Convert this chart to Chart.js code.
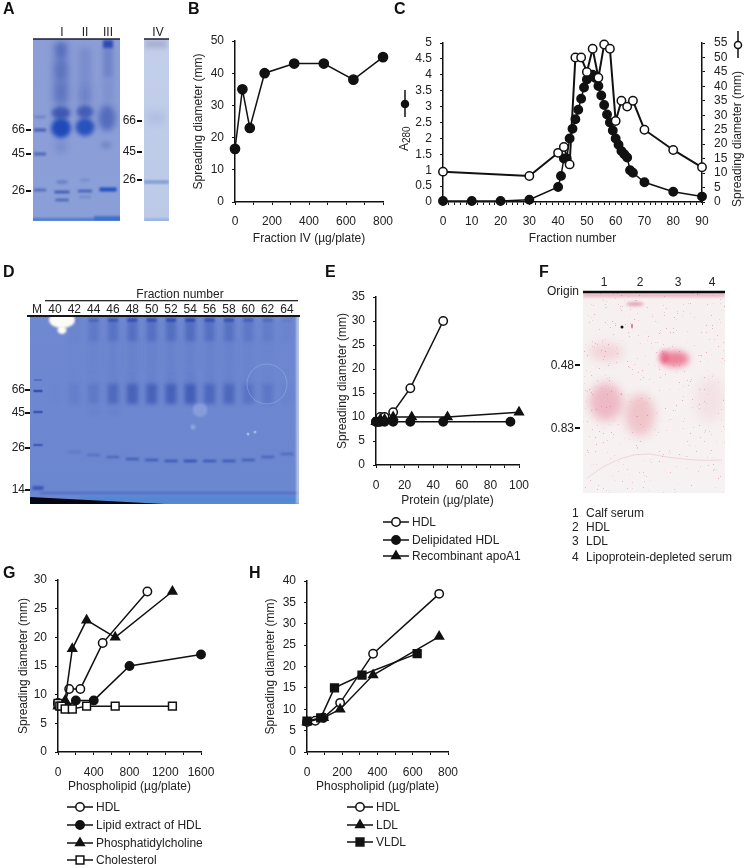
<!DOCTYPE html>
<html>
<head>
<meta charset="utf-8">
<script src="https://cdn.jsdelivr.net/npm/chart.js@4/dist/chart.umd.min.js"></script>
<style>
  html, body { margin: 0; padding: 0; background: #fff; }
  #page { position: relative; width: 748px; height: 868px; overflow: hidden; font-family: "Liberation Sans", Arial, sans-serif; color: #222; }
  #gels { position: absolute; left: 0; top: 0; }
  #page canvas.plot { position: absolute; }
  .t { position: absolute; white-space: nowrap; font-size: 12px; line-height: 14px; }
  .letter { font-weight: bold; font-size: 16px; color: #111; }
  .tick { position: absolute; background: #111; height: 2px; width: 5px; }
</style>
</head>
<body>
<div id="page"><canvas id="gels" width="748" height="868"></canvas></div>
<script>
// Panel B
var bDose = [0, 40, 80, 160, 320, 480, 640, 800];
var bSpread = [16.5, 35, 23, 40, 43, 43, 38, 45];

// Panel C
var cA280X = [0, 10, 20, 30, 40, 41, 42, 43, 44, 45, 46, 47, 48, 49, 50, 51, 52, 53, 54, 55, 56, 57, 58, 59, 60, 61, 62, 63, 64, 65, 66, 70, 80, 90];
var cA280 = [0.03, 0.03, 0.03, 0.07, 0.47, 0.82, 1.37, 1.37, 2.0, 2.3, 2.6, 2.9, 3.25, 3.6, 3.85, 3.95, 4.0, 3.9, 3.65, 3.35, 3.05, 2.75, 2.5, 2.25, 2.0, 1.8, 1.6, 1.5, 1.4, 1.0, 0.92, 0.62, 0.32, 0.17];
var cSpreadX = [0, 30, 40, 42, 44, 46, 48, 50, 52, 54, 56, 58, 60, 62, 64, 66, 70, 80, 90];
var cSpread = [10.5, 9, 17, 19, 13, 50, 50, 45, 53, 43, 54.5, 53, 28, 35, 33, 35, 25, 18, 12];

// Panel E
var eHdlX = [0, 1.5, 3, 6, 12, 24, 47];
var eHdl = [9, 9, 10, 10, 11, 16, 30];
var eDelipX = [0, 1.5, 3, 6, 12, 24, 47, 94];
var eDelip = [9, 9, 9, 9, 9, 9, 9, 9];
var eApoX = [0, 3, 6, 12, 25, 50, 100];
var eApo = [9, 9.5, 9.5, 10, 10, 10, 11];

// Panel G
var gHdlX = [0, 62, 125, 250, 500, 1000];
var gHdl = [8.5, 8, 11, 11, 19, 28];
var gLipidX = [0, 100, 200, 400, 800, 1600];
var gLipid = [8.5, 8, 9, 9, 15, 17];
var gPcX = [0, 80, 160, 320, 640, 1280];
var gPc = [8, 9, 18, 23, 20, 28];
var gCholX = [0, 20, 40, 80, 160, 320, 640, 1280];
var gChol = [8.5, 8, 8, 7.5, 7.5, 8, 8, 8];

// Panel H
var hHdlX = [0, 47, 94, 188, 375, 750];
var hHdl = [7, 7.3, 8, 11.5, 23, 37];
var hLdlX = [0, 94, 188, 375, 750];
var hLdl = [7, 8, 10, 18, 27];
var hVldlX = [0, 78, 156, 312, 625];
var hVldl = [7.2, 8, 15, 18, 23];

var ink = '#111';
Chart.defaults.font.family = '"Liberation Sans", Arial, sans-serif';
Chart.defaults.font.size = 12;
Chart.defaults.color = '#222';

function pairs(xs, ys) {
    return xs.map(function (x, i) { return { x: x, y: ys[i] }; });
}

// open = white fill, otherwise solid black
function series(label, xs, ys, style, open, radius, order, lineWidth) {
    return {
        label: label,
        data: pairs(xs, ys),
        borderColor: ink,
        borderWidth: lineWidth || 1.5,
        tension: 0,
        clip: false,
        order: order,
        pointStyle: style,
        pointRadius: radius,
        pointBackgroundColor: open ? '#fff' : ink,
        pointBorderColor: ink,
        pointBorderWidth: 1.5
    };
}

function scaleBase(min, max, step, labelEvery, side, padding, width) {
    return {
        type: 'linear',
        position: side,
        min: min,
        max: max,
        afterFit: function (s) {
            if (s.isHorizontal()) s.height = width; else s.width = width;
        },
        border: { color: ink, width: 1.5 },
        grid: { drawOnChartArea: false, color: ink, tickColor: ink, tickLength: 3, lineWidth: 1 },
        ticks: {
            stepSize: step,
            autoSkip: false,
            maxRotation: 0,
            padding: padding,
            callback: function (v) {
                var n = Math.round(v / labelEvery * 1000) / 1000;
                return n === Math.round(n) ? String(v) : '';
            }
        }
    };
}

function axisTitle(text) {
    return { display: true, text: text, padding: 0, font: { size: 12 }, color: '#222' };
}

// legend rows drawn under the plot, using the dataset's own marker
function legendPlugin(rows) {
    return {
        id: 'rows',
        afterDraw: function (chart) {
            var ctx = chart.ctx;
            var ox = parseFloat(chart.canvas.style.left), oy = parseFloat(chart.canvas.style.top);
            rows.forEach(function (r) {
                var ds = chart.data.datasets[r.index];
                ctx.save();
                ctx.strokeStyle = ink;
                ctx.lineWidth = 1.5;
                ctx.beginPath();
                ctx.moveTo(r.x0 - ox, r.y - oy);
                ctx.lineTo(r.x1 - ox, r.y - oy);
                ctx.stroke();
                ctx.fillStyle = ds.pointBackgroundColor;
                ctx.strokeStyle = ink;
                Chart.helpers.drawPoint(ctx, { pointStyle: ds.pointStyle, radius: ds.pointRadius, borderWidth: 1.5, rotation: 0 }, (r.x0 + r.x1) / 2 - ox, r.y - oy);
                ctx.fillStyle = '#222';
                ctx.font = '12px "Liberation Sans", Arial, sans-serif';
                ctx.textBaseline = 'middle';
                ctx.fillText(ds.label, r.x1 + 3 - ox, r.y - oy + 0.5);
                ctx.restore();
            });
        }
    };
}

// plot = inner plot rectangle on the page, m = margins around it
// note ticks.padding adds to the axis top padding, so m.t has to cover label height/2 + padding
function panel(plot, m, extraBottom, scales, datasets, plugins) {
    var c = document.createElement('canvas');
    c.className = 'plot';
    var w = plot.r - plot.l + m.l + m.r;
    var h = plot.b - plot.t + m.t + m.b + extraBottom;
    c.width = w;
    c.height = h;
    c.style.left = (plot.l - m.l) + 'px';
    c.style.top = (plot.t - m.t) + 'px';
    c.style.width = w + 'px';
    c.style.height = h + 'px';
    document.getElementById('page').appendChild(c);
    return new Chart(c.getContext('2d'), {
        type: 'line',
        data: { datasets: datasets },
        plugins: plugins || [],
        options: {
            responsive: false,
            animation: false,
            layout: { padding: { top: m.t, right: scales.y2 ? 0 : m.r, left: 0, bottom: extraBottom } },
            plugins: { legend: { display: false }, tooltip: { enabled: false } },
            scales: scales
        }
    });
}

// Panel B
(function () {
    var x = scaleBase(0, 800, 100, 200, 'bottom', 9, 44);
    x.title = axisTitle('Fraction IV (\u00b5g/plate)');
    var y = scaleBase(0, 50, 10, 10, 'left', 8, 44);
    y.title = axisTitle('Spreading diameter (mm)');
    panel({ l: 235, r: 383, t: 41, b: 202 }, { l: 44, r: 30, t: 18, b: 44 }, 0, { x: x, y: y }, [
        series('Fraction IV', bDose, bSpread, 'circle', false, 4.6, 0)
    ]);
})();

// Panel C, two value axes plus the little marker keys beside them
(function () {
    var x = scaleBase(0, 90, 2, 10, 'bottom', 9, 44);
    x.title = axisTitle('Fraction number');
    var y = scaleBase(0, 5, 0.5, 0.5, 'left', 8, 48);
    var y2 = scaleBase(0, 55, 5, 5, 'right', 9, 46);
    var keys = {
        id: 'keys',
        afterDraw: function (chart) {
            var ctx = chart.ctx;
            var ox = parseFloat(chart.canvas.style.left), oy = parseFloat(chart.canvas.style.top);
            ctx.save();
            ctx.strokeStyle = ink;
            ctx.lineWidth = 1.5;
            // left key
            ctx.beginPath();
            ctx.moveTo(405 - ox, 90 - oy);
            ctx.lineTo(405 - ox, 117 - oy);
            ctx.stroke();
            ctx.fillStyle = ink;
            Chart.helpers.drawPoint(ctx, { pointStyle: 'circle', radius: 3.5, borderWidth: 1, rotation: 0 }, 405 - ox, 104 - oy);
            // right key
            ctx.beginPath();
            ctx.moveTo(738 - ox, 31 - oy);
            ctx.lineTo(738 - ox, 58 - oy);
            ctx.stroke();
            ctx.fillStyle = '#fff';
            Chart.helpers.drawPoint(ctx, { pointStyle: 'circle', radius: 3.5, borderWidth: 1.5, rotation: 0 }, 738 - ox, 45 - oy);
            // rotated titles
            ctx.fillStyle = '#222';
            ctx.textAlign = 'center';
            ctx.textBaseline = 'middle';
            ctx.save();
            ctx.translate(738 - ox, 139 - oy);
            ctx.rotate(-Math.PI / 2);
            ctx.font = '12px "Liberation Sans", Arial, sans-serif';
            ctx.fillText('Spreading diameter (mm)', 0, 0);
            ctx.restore();
            ctx.save();
            ctx.translate(405 - ox, 138 - oy);
            ctx.rotate(-Math.PI / 2);
            ctx.textAlign = 'left';
            ctx.font = '12px "Liberation Sans", Arial, sans-serif';
            ctx.fillText('A', -13, 0);
            ctx.font = '10px "Liberation Sans", Arial, sans-serif';
            ctx.fillText('280', -5, 2);
            ctx.restore();
            ctx.restore();
        }
    };
    var white = series('Spreading diameter', cSpreadX, cSpread, 'circle', true, 4.2, 0, 2);
    white.yAxisID = 'y2';
    var black = series('A280', cA280X, cA280, 'circle', false, 4.2, 1);
    black.yAxisID = 'y';
    panel({ l: 443, r: 702, t: 43, b: 201 }, { l: 48, r: 46, t: 18, b: 45 }, 0, { x: x, y: y, y2: y2 }, [white, black], [keys]);
})();

// Panel E
(function () {
    var x = scaleBase(0, 100, 10, 20, 'bottom', 10, 43);
    x.title = axisTitle('Protein (\u00b5g/plate)');
    var y = scaleBase(0, 35, 5, 5, 'left', 8, 41);
    y.title = axisTitle('Spreading diameter (mm)');
    panel({ l: 376, r: 519, t: 297, b: 465 }, { l: 41, r: 30, t: 18, b: 43 }, 100, { x: x, y: y }, [
        series('HDL', eHdlX, eHdl, 'circle', true, 4.2, 2),
        series('Delipidated HDL', eDelipX, eDelip, 'circle', false, 4.2, 0),
        series('Recombinant apoA1', eApoX, eApo, 'triangle', false, 5, 1)
    ], [legendPlugin([
        { index: 0, x0: 383, x1: 409, y: 522 },
        { index: 1, x0: 383, x1: 409, y: 540 },
        { index: 2, x0: 383, x1: 409, y: 556 }
    ])]);
})();

// Panel G
(function () {
    var x = scaleBase(0, 1600, 200, 400, 'bottom', 10, 42);
    x.title = axisTitle('Phospholipid (\u00b5g/plate)');
    var y = scaleBase(0, 30, 5, 5, 'left', 8, 42);
    y.title = axisTitle('Spreading diameter (mm)');
    panel({ l: 58, r: 201, t: 580, b: 752 }, { l: 42, r: 30, t: 18, b: 42 }, 74, { x: x, y: y }, [
        series('HDL', gHdlX, gHdl, 'circle', true, 4.2, 3),
        series('Lipid extract of HDL', gLipidX, gLipid, 'circle', false, 4.2, 2),
        series('Phosphatidylcholine', gPcX, gPc, 'triangle', false, 5, 1),
        series('Cholesterol', gCholX, gChol, 'rect', true, 5.5, 0)
    ], [legendPlugin([
        { index: 0, x0: 67, x1: 93, y: 807 },
        { index: 1, x0: 67, x1: 93, y: 825 },
        { index: 2, x0: 67, x1: 93, y: 843 },
        { index: 3, x0: 67, x1: 93, y: 860 }
    ])]);
})();

// Panel H
(function () {
    var x = scaleBase(0, 800, 100, 200, 'bottom', 10, 42);
    x.title = axisTitle('Phospholipid (\u00b5g/plate)');
    var y = scaleBase(0, 40, 5, 5, 'left', 8, 44);
    y.title = axisTitle('Spreading diameter (mm)');
    panel({ l: 307, r: 448, t: 581, b: 752 }, { l: 44, r: 30, t: 18, b: 42 }, 74, { x: x, y: y }, [
        series('HDL', hHdlX, hHdl, 'circle', true, 4.2, 2),
        series('LDL', hLdlX, hLdl, 'triangle', false, 5, 1),
        series('VLDL', hVldlX, hVldl, 'rect', false, 5.5, 0)
    ], [legendPlugin([
        { index: 0, x0: 347, x1: 373, y: 807 },
        { index: 1, x0: 347, x1: 373, y: 825 },
        { index: 2, x0: 347, x1: 373, y: 842 }
    ])]);
})();

// --- page text that is not part of any chart ---
function text(str, x, y, align, cls) {
    var el = document.createElement('div');
    el.className = 't' + (cls ? ' ' + cls : '');
    el.textContent = str;
    var shift = align === 'right' ? '-100%' : align === 'center' ? '-50%' : '0';
    el.style.left = x + 'px';
    el.style.top = y + 'px';
    el.style.transform = 'translate(' + shift + ',-50%)';
    document.getElementById('page').appendChild(el);
}
function tickMark(x, y) {
    var el = document.createElement('div');
    el.className = 'tick';
    el.style.left = x + 'px';
    el.style.top = (y - 1) + 'px';
    document.getElementById('page').appendChild(el);
}

[['A', 3, 9], ['B', 188, 9], ['C', 394, 9], ['D', 3, 272], ['E', 325, 272], ['F', 539, 272], ['G', 3, 573], ['H', 249, 573]].forEach(function (l) {
    text(l[0], l[1], l[2], 'left', 'letter');
});

[['I', 62], ['II', 85], ['III', 108], ['IV', 158]].forEach(function (l) { text(l[0], l[1], 32, 'center'); });
[['66', 129], ['45', 153], ['26', 190]].forEach(function (l) {
    text(l[0], 25, l[1], 'right');
    tickMark(26, l[1] + 1);
});
[['66', 120], ['45', 151], ['26', 179]].forEach(function (l) {
    text(l[0], 136, l[1], 'right');
    tickMark(137, l[1] + 1);
});

text('Fraction number', 180, 294, 'center');
['M', '40', '42', '44', '46', '48', '50', '52', '54', '56', '58', '60', '62', '64'].forEach(function (l, i) {
    text(l, i === 0 ? 37 : 55 + (i - 1) * 19.33, 309, 'center');
});
[['66', 389], ['45', 412], ['26', 447], ['14', 489]].forEach(function (l) {
    text(l[0], 25, l[1], 'right');
    tickMark(25, l[1] + 1);
});

text('Origin', 579, 291, 'right');
[['1', 604], ['2', 640], ['3', 678], ['4', 712]].forEach(function (l) { text(l[0], l[1], 282, 'center'); });
[['0.48', 365], ['0.83', 428]].forEach(function (l) {
    text(l[0], 574, l[1], 'right');
    tickMark(575, l[1]);
});
[['1', 'Calf serum', 513], ['2', 'HDL', 527], ['3', 'LDL', 541], ['4', 'Lipoprotein-depleted serum', 557]].forEach(function (l) {
    text(l[0], 572, l[2], 'left');
    text(l[1], 586, l[2], 'left');
});

// --- gel and blot photographs, painted as soft blobs ---
(function () {
    var ctx = document.getElementById('gels').getContext('2d');

    function blob(x, y, w, h, color, blur) {
        ctx.save();
        ctx.filter = 'blur(' + blur + 'px)';
        ctx.fillStyle = color;
        ctx.beginPath();
        ctx.ellipse(x, y, w / 2, h / 2, 0, 0, Math.PI * 2);
        ctx.fill();
        ctx.restore();
    }
    function bar(x, y, w, h, color, blur) {
        ctx.save();
        ctx.filter = 'blur(' + blur + 'px)';
        ctx.fillStyle = color;
        ctx.fillRect(x - w / 2, y - h / 2, w, h);
        ctx.restore();
    }
    function gel(x, y, w, h, top, bottom, paint) {
        ctx.save();
        ctx.beginPath();
        ctx.rect(x, y, w, h);
        ctx.clip();
        var g = ctx.createLinearGradient(0, y, 0, y + h);
        g.addColorStop(0, top);
        g.addColorStop(1, bottom);
        ctx.fillStyle = g;
        ctx.fillRect(x, y, w, h);
        paint();
        ctx.restore();
    }
    var deep = function (a) { return 'rgba(38,66,165,' + a + ')'; };

    // gel A, lanes I-III with markers
    gel(33, 39, 87, 182, '#8d9ed6', '#8a9fd8', function () {
        bar(40, 117, 11, 2.5, deep(0.3), 1);
        bar(40, 130, 12, 3, deep(0.7), 1);
        bar(40, 154, 12, 3, deep(0.6), 1);
        bar(40, 190, 12, 2.5, deep(0.6), 0.9);
        // lane I
        bar(61, 72, 15, 60, deep(0.28), 3.5);
        blob(61, 50, 11, 16, deep(0.3), 2.5);
        blob(61, 70, 14, 20, deep(0.25), 3);
        bar(61, 95, 13, 24, deep(0.22), 3.5);
        blob(61, 113, 19, 13, deep(0.75), 2);
        blob(61, 128, 20, 20, 'rgba(30,72,185,0.98)', 2);
        blob(61, 147, 13, 14, deep(0.18), 3.5);
        blob(62, 182, 12, 4, deep(0.3), 1.2);
        bar(62, 192, 15, 2.5, deep(0.8), 0.9);
        bar(62, 200, 13, 2.5, deep(0.65), 0.9);
        // lane II
        bar(85, 75, 12, 55, deep(0.2), 3.5);
        bar(85, 98, 11, 20, deep(0.14), 3.5);
        blob(85, 112, 17, 13, deep(0.7), 2);
        blob(85, 127, 19, 18, 'rgba(30,72,185,0.9)', 2);
        blob(85, 180, 10, 3, deep(0.18), 1.2);
        bar(85, 191, 14, 2.5, deep(0.7), 0.9);
        bar(85, 197, 11, 2.5, deep(0.22), 1);
        // lane III
        bar(108, 44, 10, 8, 'rgba(30,60,170,0.85)', 1.5);
        bar(108, 62, 10, 30, deep(0.28), 2.5);
        bar(108, 90, 10, 24, deep(0.16), 3.5);
        blob(107, 118, 17, 26, deep(0.55), 3);
        blob(106, 145, 11, 7, deep(0.25), 2);
        bar(108, 189.5, 17, 4, 'rgba(30,75,190,0.95)', 0.9);
        // dye front
        bar(76, 219.5, 90, 2.5, 'rgba(40,100,200,0.75)', 0.9);
        bar(108, 218, 28, 4, 'rgba(40,100,200,0.7)', 1.2);
    });
    bar(76.5, 39, 87, 1.5, '#1b1b3a', 0);

    // strip IV
    gel(144, 39, 25, 182, '#c3cfea', '#bccae8', function () {
        bar(156, 44, 22, 8, 'rgba(130,130,170,0.4)', 2.5);
        bar(156, 118, 18, 14, 'rgba(90,115,190,0.14)', 3.5);
        bar(156.5, 182, 25, 3, 'rgba(80,115,195,0.6)', 1);
        bar(156.5, 220, 25, 2.5, 'rgba(90,130,210,0.45)', 1);
    });
    bar(156.5, 39, 25, 1.5, '#1b1b3a', 0);

    // gel D
    gel(30, 316, 269, 188, '#6f88d0', '#6b87d0', function () {
        var top = [0, 0.1, 0.45, 0.65, 0.75, 0.75, 0.8, 0.85, 0.75, 0.7, 0.5, 0.35, 0.12];
        var mid = [0.01, 0.12, 0.2, 0.42, 0.52, 0.52, 0.55, 0.6, 0.45, 0.45, 0.28, 0.22, 0.05];
        var low = [0, 0.2, 0.35, 0.5, 0.65, 0.7, 0.78, 0.88, 0.78, 0.75, 0.65, 0.55, 0.45];
        var lowY = [453, 452, 455, 457, 459, 460, 461, 461, 461, 461, 460, 457, 454];
        top.forEach(function (t, i) {
            var x = 55 + i * 19.33;
            bar(x, 320, 10, 4, deep(t), 1);
            bar(x, 331, 10, 20, deep(t * 0.45), 2);
            bar(x, 354, 10, 30, deep(t * 0.12), 3);
            bar(x, 394, 11, 20, deep(mid[i]), 2);
            bar(x, 378, 10, 14, deep(mid[i] * 0.18), 2.5);
            bar(x, lowY[i], 13, 2.2, deep(low[i]), 0.8);
        });
        bar(38, 380, 8, 1.6, deep(0.4), 0.7);
        bar(38, 391, 9, 2.5, deep(0.75), 0.7);
        bar(38, 412, 9, 2.5, deep(0.7), 0.7);
        bar(38, 445, 9, 2.5, deep(0.6), 0.7);
        bar(38, 488, 11, 3.5, deep(0.75), 0.8);
        blob(95, 412, 14, 6, deep(0.08), 2);
        blob(114, 412, 14, 6, deep(0.08), 2);
        // sample plug and bubbles
        blob(62, 320, 26, 16, '#fdfbf5', 1.2);
        blob(62, 330, 9, 8, '#fdfbf5', 1.2);
        ctx.strokeStyle = 'rgba(170,190,235,0.4)';
        ctx.lineWidth = 1;
        ctx.beginPath();
        ctx.arc(267, 384, 20, 0, Math.PI * 2);
        ctx.stroke();
        blob(200, 410, 15, 14, 'rgba(160,180,228,0.5)', 1.2);
        blob(193, 427, 5, 5, 'rgba(170,190,232,0.6)', 0.8);
        blob(248, 434, 3, 3, 'rgba(190,205,240,0.7)', 0.5);
        blob(255, 432, 3, 3, 'rgba(190,205,240,0.7)', 0.5);
        // stained front at the bottom of the gel
        bar(170, 493, 260, 2, deep(0.4), 0.9);
        bar(190, 500, 220, 8, 'rgba(60,135,215,0.5)', 1.5);
        ctx.fillStyle = '#060610';
        ctx.beginPath();
        ctx.moveTo(30, 497);
        ctx.lineTo(165, 504);
        ctx.lineTo(30, 504);
        ctx.fill();
        bar(298, 410, 3, 188, 'rgba(235,240,250,0.7)', 0.8);
    });
    bar(163.5, 316, 273, 2, '#14141e', 0);
    bar(171.5, 300.7, 253, 1.2, '#111', 0);

    // blot F
    gel(583, 292, 142, 201, '#f6f0f1', '#f6f1f2', function () {
        blob(606, 352, 34, 18, 'rgba(232,140,155,0.28)', 5);
        blob(606, 402, 33, 38, 'rgba(226,110,135,0.42)', 5);
        blob(640, 415, 30, 42, 'rgba(230,125,140,0.38)', 5);
        blob(675, 359, 28, 16, 'rgba(232,85,120,0.7)', 3);
        blob(664, 357, 9, 14, 'rgba(236,55,105,0.5)', 2);
        blob(710, 400, 28, 44, 'rgba(230,150,160,0.16)', 6);
        bar(654, 295, 142, 4, 'rgba(210,70,110,0.35)', 1.5);
        blob(635, 304, 18, 4, 'rgba(205,70,110,0.45)', 1.5);
        blob(622, 327, 3, 3, '#111', 0.3);
        blob(632, 326, 2, 5, 'rgba(210,70,110,0.7)', 0.5);
        ctx.strokeStyle = 'rgba(215,130,150,0.25)';
        ctx.lineWidth = 1;
        ctx.beginPath();
        ctx.moveTo(587, 478);
        ctx.quadraticCurveTo(620, 452, 650, 454);
        ctx.quadraticCurveTo(690, 462, 722, 460);
        ctx.stroke();
        // speckle of the membrane, fixed sequence so the picture stays the same
        var s = 17;
        function next(n) {
            s = (Math.imul(s, 1664525) + 1013904223) >>> 0;
            return (s >>> 12) % n;
        }
        for (var i = 0; i < 420; i++) {
            var px = 583 + next(142);
            var py = 292 + next(201);
            ctx.fillStyle = 'rgba(200,70,110,' + (0.1 + next(5) * 0.07) + ')';
            ctx.fillRect(px, py, 1, 1);
        }
    });
    bar(654, 292, 142, 2.5, '#0c0c0c', 0);
})();
</script>
</body>
</html>
